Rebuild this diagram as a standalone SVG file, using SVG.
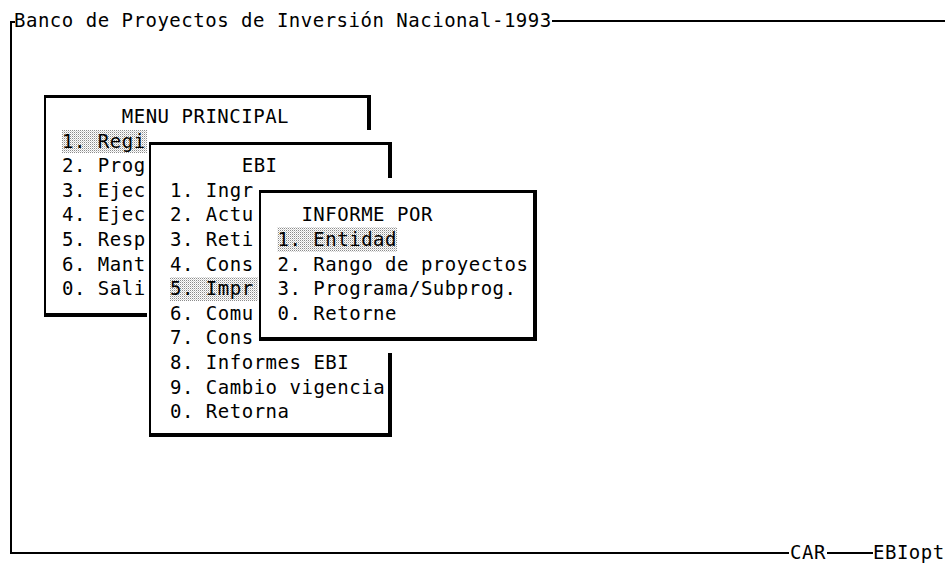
<svg xmlns="http://www.w3.org/2000/svg" width="945" height="563" viewBox="0 0 945 563">
  <defs>
    <pattern id="stipple" patternUnits="userSpaceOnUse" width="2" height="2">
      <rect x="0" y="0" width="1" height="1" fill="#8a8a8a"/>
      <rect x="1" y="1" width="1" height="1" fill="#d0d0d0"/>
    </pattern>
  </defs>
  <style>
    text { font-family: "DejaVu Sans Mono", "Liberation Mono", monospace; font-size: 19px; letter-spacing: 0.51px; fill: #000; }
    .ln { fill: #000; }
    .cover { fill: #fff; }
    .hl { fill: url(#stipple); }
  </style>
  <rect width="945" height="563" fill="#fff"/>

  <g id="frame">
    <rect class="ln" x="10" y="21" width="2" height="533"/>
    <rect class="ln" x="10" y="21" width="5" height="2"/>
    <text x="14" y="27">Banco de Proyectos de Inversión Nacional-1993</text>
    <rect class="ln" x="552" y="20" width="393" height="2"/>
    <rect class="ln" x="10" y="552" width="779" height="2"/>
    <text x="790" y="559">CAR</text>
    <rect class="ln" x="827" y="552" width="46" height="2"/>
    <text x="873" y="559">EBIopt</text>
  </g>

  <g id="menu-principal">
    <rect class="ln" x="44" y="95" width="327" height="3"/>
    <rect class="ln" x="44" y="95" width="2" height="222"/>
    <rect class="ln" x="367" y="95" width="4" height="222"/>
    <rect class="ln" x="44" y="313" width="327" height="4"/>
    <rect class="hl" x="62" y="130" width="85" height="23"/>
    <text x="121.75" y="123">MENU PRINCIPAL</text>
    <text x="62" y="147.6">1. Regi</text>
    <text x="62" y="172.2">2. Prog</text>
    <text x="62" y="196.8">3. Ejec</text>
    <text x="62" y="221.4">4. Ejec</text>
    <text x="62" y="246">5. Resp</text>
    <text x="62" y="270.6">6. Mant</text>
    <text x="62" y="295.2">0. Sali</text>
  </g>

  <g id="ebi">
    <rect class="cover" x="147" y="130" width="249" height="318"/>
    <rect class="ln" x="149" y="142" width="243" height="3"/>
    <rect class="ln" x="149" y="142" width="2" height="295"/>
    <rect class="ln" x="388" y="142" width="4" height="295"/>
    <rect class="ln" x="149" y="433" width="243" height="4"/>
    <rect class="hl" x="170" y="277" width="88" height="24"/>
    <text x="241.7" y="172.2">EBI</text>
    <text x="170" y="196.8">1. Ingr</text>
    <text x="170" y="221.4">2. Actu</text>
    <text x="170" y="246">3. Reti</text>
    <text x="170" y="270.6">4. Cons</text>
    <text x="170" y="295.2">5. Impr</text>
    <text x="170" y="319.8">6. Comu</text>
    <text x="170" y="344.4">7. Cons</text>
    <text x="170" y="369">8. Informes EBI</text>
    <text x="170" y="393.6">9. Cambio vigencia</text>
    <text x="170" y="418.2">0. Retorna</text>
  </g>

  <g id="informe-por">
    <rect class="cover" x="258" y="178" width="284" height="175"/>
    <rect class="ln" x="259" y="190" width="278" height="3"/>
    <rect class="ln" x="259" y="190" width="2" height="151"/>
    <rect class="ln" x="533" y="190" width="4" height="151"/>
    <rect class="ln" x="259" y="337" width="278" height="4"/>
    <rect class="hl" x="277.5" y="227" width="119.5" height="25"/>
    <text x="301.4" y="221.4">INFORME POR</text>
    <text x="277.5" y="246">1. Entidad</text>
    <text x="277.5" y="270.6">2. Rango de proyectos</text>
    <text x="277.5" y="295.2">3. Programa/Subprog.</text>
    <text x="277.5" y="319.8">0. Retorne</text>
  </g>
</svg>
